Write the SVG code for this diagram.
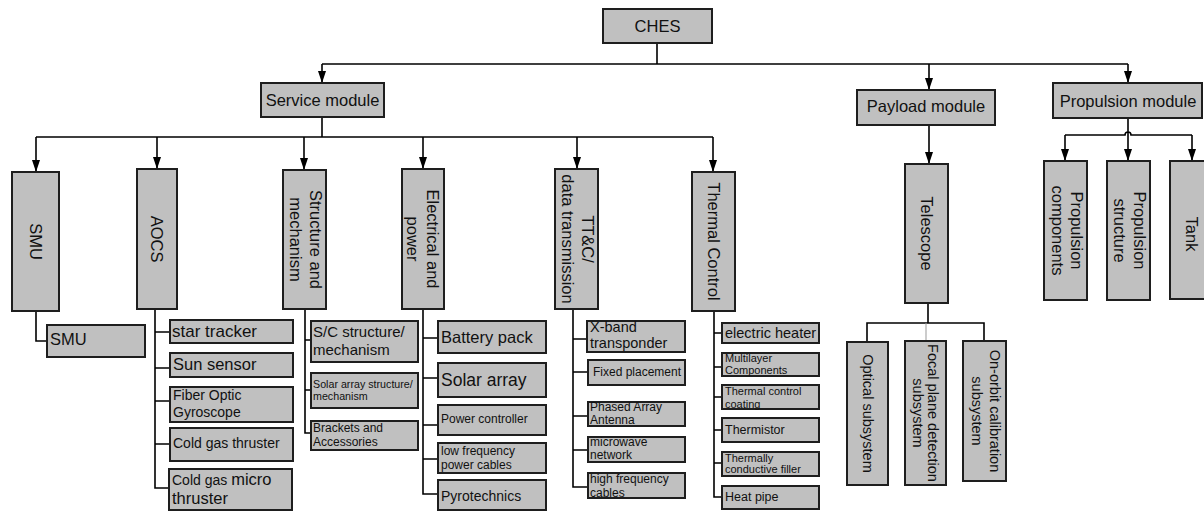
<svg xmlns="http://www.w3.org/2000/svg" width="1204" height="513" viewBox="0 0 1204 513">
<defs>
<marker id="arr" viewBox="0 0 12 8" refX="12" refY="4" markerWidth="12" markerHeight="8" markerUnits="userSpaceOnUse" orient="auto"><path d="M0,0 L12,4 L0,8 z" fill="#000"/></marker>
<style>
rect{fill:#c0c0c0;stroke:#1e1e1e;stroke-width:2}
text{font-family:"Liberation Sans",Arial,sans-serif;fill:#111}
.c{text-anchor:middle}
.ln{fill:none;stroke:#000;stroke-width:1.6}
.ar{fill:none;stroke:#000;stroke-width:1.6;marker-end:url(#arr)}
.f165{font-size:16.5px}
.f17{font-size:17px}
.f15{font-size:15px}
.f145{font-size:14.5px}
.f14{font-size:14px}
.f125{font-size:12.5px}
.f12{font-size:12px}
.f11{font-size:11px}
.f107{font-size:10.7px}
</style>
</defs>
<rect x="0" y="0" width="1204" height="513" style="fill:#fff;stroke:none"/>

<g id="connectors">
<path class="ln" d="M657,43 V64 M322,64 H1128"/>
<path class="ar" d="M322,64 V83"/>
<path class="ar" d="M929,64 V90"/>
<path class="ar" d="M1128,64 V83"/>
<path class="ln" d="M322,117 V137 M36,137 H713"/>
<path class="ar" d="M36,137 V172"/>
<path class="ar" d="M157,137 V169"/>
<path class="ar" d="M304,137 V170"/>
<path class="ar" d="M423,137 V169"/>
<path class="ar" d="M577,137 V169"/>
<path class="ar" d="M713,137 V172"/>
<path class="ar" d="M929,125 V164"/>
<path class="ln" d="M1128,118 V135 M1065,135 H1125 A3,3 0 0 1 1131,135 H1192"/>
<path class="ar" d="M1065,135 V161"/>
<path class="ar" d="M1128,135 V161"/>
<path class="ar" d="M1192,135 V161"/>
<path class="ln" d="M928,303 V323 M867,342 V323 H984 V341"/>
<path d="M926,323 V341" fill="none" stroke="#999" stroke-width="1"/>
<path class="ln" d="M36,311 V341 H47"/>
<path class="ln" d="M155,309 V488 H169 M155,332 H170 M155,368 H170 M155,401 H170 M155,444 H170"/>
<path class="ln" d="M305,309 V433 H311 M305,340 H311 M305,390 H311"/>
<path class="ln" d="M423,308 V494 H438 M423,338 H438 M423,378 H438 M423,425 H438 M423,459 H438"/>
<path class="ln" d="M573,309 V487 H588 M573,339 H587 M573,372 H588 M573,416 H588 M573,450 H588"/>
<path class="ln" d="M714,311 V497 H722 M714,333 H722 M714,367 H722 M714,397 H722 M714,430 H722 M714,463 H722"/>
</g>

<g id="ches"><rect x="603" y="9" width="109" height="34"/><text class="c f165" x="657.5" y="32">CHES</text></g>
<g id="service"><rect x="261" y="83" width="123" height="34"/><text class="c f165" x="322.5" y="106">Service module</text></g>
<g id="payload"><rect x="857" y="90" width="138" height="35"/><text class="c f165" x="926" y="112">Payload module</text></g>
<g id="propulsion"><rect x="1053" y="83" width="149" height="35"/><text class="c f165" x="1128" y="107">Propulsion module</text></g>

<g id="smu"><rect x="12" y="172" width="47" height="139"/><text class="c f165" transform="translate(35.5,241.5) rotate(90)" y="6">SMU</text></g>
<g id="aocs"><rect x="137" y="169" width="40" height="140"/><text class="c f165" transform="translate(157,239) rotate(90)" y="6">AOCS</text></g>
<g id="structure"><rect x="283" y="170" width="43" height="139"/><text class="c f165" transform="translate(304.5,239.5) rotate(90)"><tspan x="0" y="-5">Structure and</tspan><tspan x="0" y="15">mechanism</tspan></text></g>
<g id="electrical"><rect x="402" y="169" width="42" height="140"/><text class="c f165" transform="translate(423,239) rotate(90)"><tspan x="0" y="-4">Electrical and</tspan><tspan x="0" y="16">power</tspan></text></g>
<g id="ttc"><rect x="555" y="169" width="43" height="140"/><text class="c f165" transform="translate(576.5,239) rotate(90)"><tspan x="0" y="-5">TT&amp;C/</tspan><tspan x="0" y="15">data transmission</tspan></text></g>
<g id="thermal"><rect x="692" y="172" width="43" height="139"/><text class="c f165" transform="translate(713.5,241.5) rotate(90)" y="6">Thermal Control</text></g>
<g id="telescope"><rect x="905" y="164" width="43" height="139"/><text class="c f165" transform="translate(926.5,233.5) rotate(90)" y="6">Telescope</text></g>
<g id="prop-components"><rect x="1044" y="161" width="43" height="139"/><text class="c f165" transform="translate(1065.5,230.5) rotate(90)"><tspan x="0" y="-5">Propulsion</tspan><tspan x="0" y="14">components</tspan></text></g>
<g id="prop-structure"><rect x="1107" y="161" width="43" height="139"/><text class="c f165" transform="translate(1128.5,230.5) rotate(90)"><tspan x="0" y="-5">Propulsion</tspan><tspan x="0" y="15">structure</tspan></text></g>
<g id="tank"><rect x="1170" y="161" width="44" height="138"/><text class="c f165" transform="translate(1192,234) rotate(90)" y="6">Tank</text></g>

<g id="optical"><rect x="847" y="342" width="41" height="143"/><text class="c f145" transform="translate(867.5,413.5) rotate(90)" y="5">Optical subsystem</text></g>
<g id="focal"><rect x="905" y="341" width="41" height="144"/><text class="c f145" transform="translate(925.5,413) rotate(90)"><tspan x="0" y="-2.5">Focal plane detection</tspan><tspan x="0" y="12.5">subsystem</tspan></text></g>
<g id="onorbit"><rect x="963" y="341" width="43" height="140"/><text class="c f145" transform="translate(984.5,411) rotate(90)"><tspan x="0" y="-5">On-orbit calibration</tspan><tspan x="0" y="12.5">subsystem</tspan></text></g>

<g id="smu-sub"><rect x="47" y="325" width="98" height="32"/><text class="f165" x="50" y="345">SMU</text></g>

<g id="star-tracker"><rect x="170" y="320" width="123" height="23"/><text class="f17" x="172" y="337">star tracker</text></g>
<g id="sun-sensor"><rect x="170" y="353" width="123" height="24"/><text class="f165" x="173" y="370">Sun sensor</text></g>
<g id="fog"><rect x="170" y="387" width="123" height="35"/><text class="f14" x="173" y="400">Fiber Optic<tspan x="173" y="417">Gyroscope</tspan></text></g>
<g id="cold-gas"><rect x="170" y="428" width="123" height="33"/><text class="f14" x="173" y="448">Cold gas thruster</text></g>
<g id="cold-gas-micro"><rect x="169" y="469" width="123" height="41"/><text x="172" y="485"><tspan class="f14">Cold gas </tspan><tspan class="f165">micro</tspan><tspan class="f165" x="172" y="504">thruster</tspan></text></g>

<g id="sc-structure"><rect x="311" y="321" width="107" height="41"/><text class="f15" x="313" y="337">S/C structure/<tspan x="313" y="355">mechanism</tspan></text></g>
<g id="solar-structure"><rect x="311" y="373" width="107" height="35"/><text class="f107" x="313" y="388">Solar array structure/<tspan x="313" y="400">mechanism</tspan></text></g>
<g id="brackets"><rect x="311" y="421" width="107" height="29"/><text class="f12" x="313" y="432">Brackets and<tspan x="313" y="446">Accessories</tspan></text></g>

<g id="battery"><rect x="438" y="321" width="108" height="32"/><text class="f165" x="441" y="343">Battery pack</text></g>
<g id="solar-array"><rect x="438" y="363" width="108" height="34"/><text x="441" y="386" style="font-size:17.5px">Solar array</text></g>
<g id="power-controller"><rect x="438" y="405" width="108" height="30"/><text class="f12" x="441" y="423">Power controller</text></g>
<g id="lf-cables"><rect x="438" y="443" width="108" height="30"/><text class="f12" x="441" y="455">low frequency<tspan x="441" y="469">power cables</tspan></text></g>
<g id="pyro"><rect x="438" y="480" width="108" height="30"/><text class="f14" x="441" y="501">Pyrotechnics</text></g>

<g id="xband"><rect x="587" y="321" width="98" height="31"/><text class="f145" x="590" y="332">X-band<tspan x="590" y="348">transponder</tspan></text></g>
<g id="fixed"><rect x="588" y="360" width="97" height="25"/><text class="f12" x="593" y="376">Fixed placement</text></g>
<g id="phased"><rect x="588" y="402" width="97" height="24"/><text class="f12" x="590" y="411">Phased Array<tspan x="590" y="424">Antenna</tspan></text></g>
<g id="microwave"><rect x="588" y="437" width="97" height="25"/><text class="f12" x="590" y="446">microwave<tspan x="590" y="459">network</tspan></text></g>
<g id="hf-cables"><rect x="588" y="473" width="97" height="25"/><text class="f12" x="590" y="483">high frequency<tspan x="590" y="497">cables</tspan></text></g>

<g id="heater"><rect x="722" y="323" width="97" height="20"/><text class="f145" x="725" y="338">electric heater</text></g>
<g id="multilayer"><rect x="722" y="353" width="97" height="23"/><text class="f11" x="725" y="362">Multilayer<tspan x="725" y="374">Components</tspan></text></g>
<g id="coating"><rect x="722" y="385" width="97" height="24"/><text class="f11" x="725" y="395">Thermal control<tspan x="725" y="408">coating</tspan></text></g>
<g id="thermistor"><rect x="722" y="418" width="97" height="24"/><text class="f125" x="725" y="434">Thermistor</text></g>
<g id="filler"><rect x="722" y="452" width="97" height="24"/><text class="f11" x="725" y="462">Thermally<tspan x="725" y="473">conductive filler</tspan></text></g>
<g id="heat-pipe"><rect x="722" y="486" width="97" height="23"/><text class="f125" x="725" y="501">Heat pipe</text></g>
</svg>
